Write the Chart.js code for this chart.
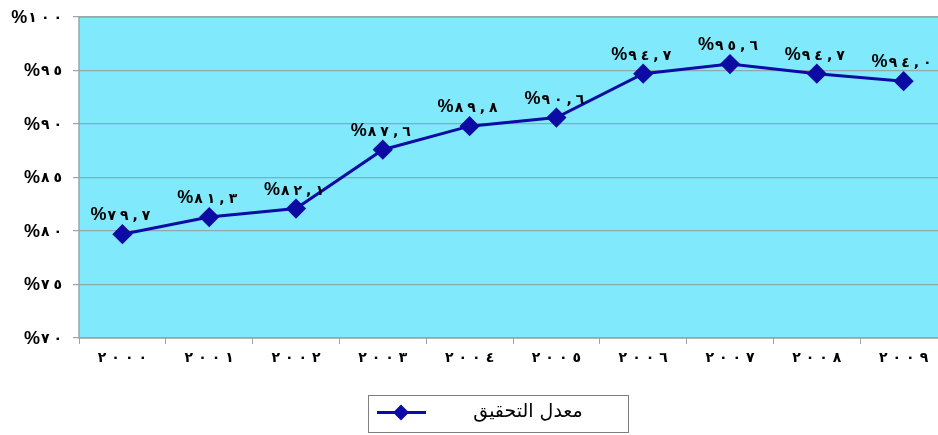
<!DOCTYPE html>
<html>
<head>
<meta charset="utf-8">
<script src="https://cdn.jsdelivr.net/npm/chart.js@4"></script>
<style>
  html, body { margin: 0; padding: 0; background: #ffffff; overflow: hidden; }
  #wrap { width: 938px; height: 435px; overflow: hidden; }
</style>
</head>
<body>
<!-- canvas is a little wider than the frame so the plot runs off the right edge -->
<div id="wrap"><canvas id="rateChart" width="947" height="435"></canvas></div>
<script>
const years = ["2000", "2001", "2002", "2003", "2004", "2005", "2006", "2007", "2008", "2009"];
const rates = [79.7, 81.3, 82.1, 87.6, 89.8, 90.6, 94.7, 95.6, 94.7, 94.0];
const yTicks = [70, 75, 80, 85, 90, 95, 100];
const seriesName = "معدل التحقيق";

const lineColor = "#0c0ca4";
const arabicDigits = "٠١٢٣٤٥٦٧٨٩";
const pctFont = "bold 18px 'Liberation Sans', 'DejaVu Sans', sans-serif";
const digitFont = "bold 14px 'DejaVu Sans', sans-serif";

function toArabic(str) {
    return String(str).replace(/[0-9]/g, d => arabicDigits[d]);
}

// draws glyph by glyph, left to right, so the digit order never gets reordered
function drawSpaced(ctx, parts, x, y, align) {
    let total = 0;
    parts.forEach(p => {
        ctx.font = p.font;
        p.w = ctx.measureText(p.ch).width;
        total += p.w + (p.gap || 0);
    });
    let cx = align === "right" ? x - total : align === "center" ? x - total / 2 : x;
    ctx.textAlign = "left";
    parts.forEach(p => {
        ctx.font = p.font;
        ctx.fillText(p.ch, cx, y);
        cx += p.w + (p.gap || 0);
    });
}

function pctParts(text, gap) {
    const parts = [{ ch: "%", font: pctFont, gap: 1 }];
    toArabic(text).split("").forEach(ch => {
        parts.push({ ch: ch === "." ? "," : ch, font: digitFont, gap: gap });
    });
    parts[parts.length - 1].gap = 0;
    return parts;
}

// cyan plot area with a grey frame
const plotBackground = {
    id: "plotBackground",
    beforeDraw(chart) {
        const { ctx, chartArea: a } = chart;
        ctx.save();
        ctx.fillStyle = "#80e9fc";
        ctx.fillRect(a.left, a.top, a.right - a.left, a.bottom - a.top);
        ctx.restore();
    },
    afterDraw(chart) {
        const { ctx, chartArea: a } = chart;
        ctx.save();
        ctx.strokeStyle = "#9aa6aa";
        ctx.lineWidth = 1.5;
        ctx.strokeRect(a.left, a.top, a.right - a.left, a.bottom - a.top);
        ctx.restore();
    }
};

// axis labels in Arabic-Indic digits
const axisLabels = {
    id: "axisLabels",
    afterDraw(chart) {
        const ctx = chart.ctx;
        const xs = chart.scales.x, ys = chart.scales.y;
        ctx.save();
        ctx.fillStyle = "#000000";
        ctx.textBaseline = "middle";
        ctx.direction = "ltr";
        yTicks.forEach(v => {
            drawSpaced(ctx, pctParts(String(v), 4), 62, ys.getPixelForValue(v) + 1, "right");
        });
        years.forEach((yr, i) => {
            const parts = toArabic(yr).split("").map(ch => ({ ch: ch, font: digitFont, gap: 5 }));
            parts[parts.length - 1].gap = 0;
            drawSpaced(ctx, parts, xs.getPixelForValue(i), xs.top + 20, "center");
        });
        ctx.restore();
    }
};

// value labels above each point
const valueLabels = {
    id: "valueLabels",
    afterDatasetsDraw(chart) {
        const ctx = chart.ctx;
        const meta = chart.getDatasetMeta(0);
        ctx.save();
        ctx.fillStyle = "#000000";
        ctx.textBaseline = "alphabetic";
        ctx.direction = "ltr";
        meta.data.forEach((pt, i) => {
            drawSpaced(ctx, pctParts(rates[i].toFixed(1), 4), pt.x - 2, pt.y - 14, "center");
        });
        ctx.restore();
    }
};

// boxed legend under the axis
const boxLegend = {
    id: "boxLegend",
    afterDraw(chart) {
        const ctx = chart.ctx;
        const bx = 368, by = 395, bw = 260, bh = 37;
        ctx.save();
        ctx.fillStyle = "#ffffff";
        ctx.fillRect(bx, by, bw, bh);
        ctx.strokeStyle = "#7f7f7f";
        ctx.lineWidth = 1;
        ctx.strokeRect(bx + 0.5, by + 0.5, bw, bh);
        const my = by + bh / 2 - 1;
        ctx.strokeStyle = lineColor;
        ctx.lineWidth = 3;
        ctx.beginPath();
        ctx.moveTo(377, my);
        ctx.lineTo(426, my);
        ctx.stroke();
        ctx.fillStyle = lineColor;
        ctx.beginPath();
        ctx.moveTo(401, my - 8);
        ctx.lineTo(409, my);
        ctx.lineTo(401, my + 8);
        ctx.lineTo(393, my);
        ctx.closePath();
        ctx.fill();
        ctx.fillStyle = "#000000";
        ctx.font = "19px 'DejaVu Sans', 'Noto Sans', sans-serif";
        ctx.textAlign = "center";
        ctx.textBaseline = "middle";
        ctx.direction = "rtl";
        ctx.fillText(seriesName, 528, my);
        ctx.restore();
    }
};

new Chart(document.getElementById("rateChart"), {
    type: "line",
    data: {
        labels: years,
        datasets: [{
            label: seriesName,
            data: rates,
            borderColor: lineColor,
            backgroundColor: lineColor,
            borderWidth: 3,
            pointStyle: "rectRot",
            pointRadius: 8,
            pointHoverRadius: 8,
            pointBackgroundColor: lineColor,
            pointBorderColor: lineColor,
            tension: 0
        }]
    },
    options: {
        responsive: false,
        animation: false,
        layout: {
            autoPadding: false,
            padding: { top: 17, right: 0, left: 0, bottom: 0 }
        },
        plugins: {
            legend: { display: false },
            tooltip: { enabled: false }
        },
        scales: {
            x: {
                offset: true,
                grid: {
                    offset: true,
                    drawOnChartArea: false,
                    tickLength: 6,
                    color: "#9aa6aa"
                },
                border: { display: false },
                ticks: { display: false },
                afterFit: function (scale) { scale.height = 97; }
            },
            y: {
                min: 70,
                max: 100,
                afterBuildTicks: function (scale) {
                    scale.ticks = yTicks.map(v => ({ value: v }));
                },
                grid: {
                    color: "#8fa7ae",
                    lineWidth: 1.2,
                    tickLength: 6
                },
                border: { display: false },
                ticks: { display: false },
                afterFit: function (scale) { scale.width = 79; }
            }
        }
    },
    plugins: [plotBackground, valueLabels, axisLabels, boxLegend]
});
</script>
</body>
</html>
